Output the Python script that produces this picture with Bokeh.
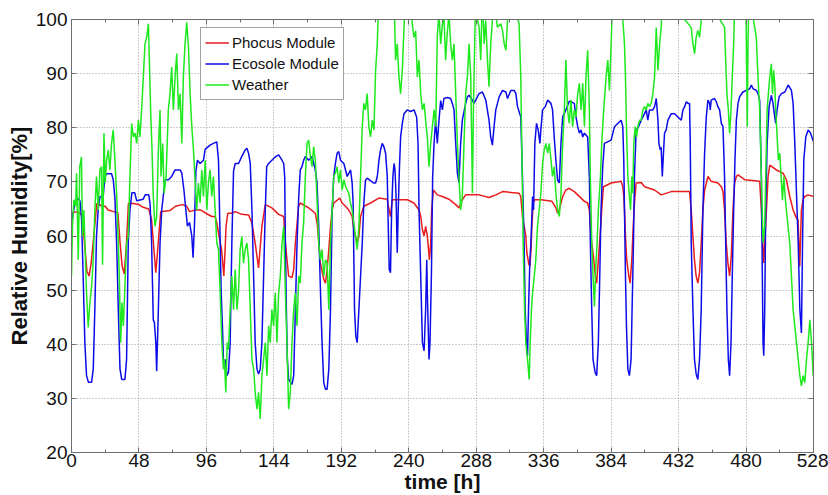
from bokeh.plotting import figure
from bokeh.models import Range1d, FixedTicker, LinearAxis, Legend, LegendItem
from bokeh.embed import file_html
from bokeh.resources import INLINE

# (hour, relative humidity %)
phocus = [(0, 64.2), (4, 64.5), (7, 64.0), (8.5, 61.0), (11, 53.5), (12.5, 52.6), (14, 55.0), (15.5, 59.0),
          (18, 66.0), (22, 65.5), (24, 65.5), (26, 64.8), (30, 64.5), (33, 64.3), (34.5, 59.0), (36, 54.5),
          (37.5, 53.0), (39, 58.0), (40.5, 66.0), (44, 66.0), (48, 65.8), (51, 65.3), (55, 65.0), (57, 63.0),
          (58.5, 58.0), (60, 53.2), (61.5, 58.0), (63.5, 64.5), (70, 64.7), (74, 65.5), (79, 65.8), (82, 65.5),
          (84, 64.5), (88, 64.8), (92, 64.8), (95, 64.3), (99.8, 63.6), (102.2, 63.6), (103.4, 62.4),
          (104.6, 60.6), (106.8, 57.5), (108.4, 52.6), (109.3, 57.5), (110, 61.8), (111.2, 64.2), (114.1, 64.2),
          (116.5, 64.5), (121.2, 64.0), (126, 63.9), (128.4, 62.4), (130.7, 58.7), (133.1, 54.1), (135.5, 61.8),
          (137.9, 65.8), (142.6, 65.2), (147.4, 64.0), (151, 63.6), (152.2, 58.7), (154.5, 52.6), (156.9, 52.3),
          (158.1, 53.8), (159.3, 58.7), (161.6, 65.5), (162.8, 66.1), (168.8, 65.2), (173.5, 64.2), (174.8, 62.4),
          (176, 58.7), (177.1, 55.0), (179.5, 52.0), (180.7, 51.3), (181.9, 53.8), (183.1, 57.5), (184.3, 61.8),
          (185.5, 64.8), (186.6, 66.1), (190.9, 67.0), (192.6, 66.1), (195, 65.5), (197.3, 64.8), (199.7, 63.6),
          (201, 61.0), (202.1, 59.9), (203.3, 58.7), (204.5, 59.9), (205.7, 63.6), (208, 65.5), (212.8, 66.1),
          (218.7, 67.0), (224.6, 66.8), (226, 64.8), (227, 63.6), (228.2, 66.7), (239, 66.7), (243.7, 66.1),
          (247.3, 64.8), (248.5, 63.6), (249.7, 61.2), (250.9, 60.0), (252, 61.8), (253.2, 60.0), (254.7, 55.6),
          (255.6, 58.7), (256.3, 64.8), (257.5, 68.5), (260.3, 67.6), (263.9, 67.3), (268.6, 66.8), (273.4, 65.8),
          (275.7, 65.2), (278.1, 66.7), (280.5, 67.6), (290, 67.6), (297.1, 67.1), (302, 67.6), (306.7, 68.2),
          (318.5, 67.9), (319.7, 67.3), (320.9, 63.6), (323.3, 60.0), (324, 57.0), (325.4, 54.8), (326.2, 54.4),
          (327, 57.5), (327.6, 61.8), (328.5, 66.1), (329.7, 66.7), (334.1, 66.7), (341.9, 66.4), (344.7, 65.2),
          (345.9, 64.2), (347.1, 64.8), (348.3, 66.1), (349.5, 67.3), (351.8, 68.5), (354.2, 68.8), (357.8, 68.2),
          (360.2, 67.6), (365, 66.4), (367.3, 66.1), (368.5, 64.8), (369.2, 61.8), (370.2, 58.7), (371.4, 56.3),
          (372.8, 52.6), (373.7, 51.3), (374.9, 55.6), (376.1, 59.9), (377.3, 64.8), (378.5, 69.1), (384, 69.8),
          (391.1, 70.1), (392.3, 69.1), (393, 67.3), (393.5, 64.8), (394.2, 59.9), (395.1, 55.6), (396.6, 52.6),
          (397.5, 51.3), (398.7, 55.6), (399.7, 61.8), (400.6, 66.1), (401.8, 69.8), (405.4, 69.9), (407.8, 69.1),
          (414.9, 68.5), (419.6, 67.6), (426.8, 68.2), (438.7, 68.2), (439.8, 68.2), (441, 64.8), (442.2, 59.9),
          (443.3, 55.6), (444.5, 52.6), (445.7, 51.3), (446.9, 53.2), (448.1, 58.7), (449.3, 64.8), (450.5, 68.5),
          (452.9, 71.0), (455.2, 70.1), (460, 69.8), (462.4, 69.1), (463.6, 68.2), (464.7, 64.8), (465.9, 58.7),
          (467.1, 55.0), (468.3, 52.6), (469.5, 56.3), (470.7, 64.8), (471.9, 69.8), (473.1, 71.0), (474.3, 71.3),
          (479, 70.4), (489.7, 70.1), (490.9, 64.8), (491.6, 59.9), (492.6, 55.0), (493.3, 58.7), (494.5, 64.8),
          (495.7, 71.0), (496.9, 73.1), (501.6, 72.2), (506.4, 71.6), (508.7, 70.4), (511.1, 67.3), (513.5, 64.8),
          (515.9, 63.3), (517, 63.0), (518.2, 54.4), (519.4, 64.8), (520.6, 66.7), (521.8, 67.3), (524.2, 67.6),
          (528, 67.3)]

ecosole = [(0, 62.4), (2.4, 66), (4, 67), (6, 66.5), (7.1, 63.5), (8.3, 52.6), (9.5, 40.3), (10.7, 34.2), (12, 33),
           (14.3, 33), (15.5, 35.5), (16.6, 46.4), (17.8, 60), (19, 65), (20.2, 67.2), (22.6, 67.5), (23.8, 71),
           (25, 71.5), (28.5, 71.5), (29.7, 70.4), (30.9, 67), (32.1, 58.7), (33.3, 46.4), (34.5, 35.5),
           (35.7, 33.5), (38, 33.5), (39.2, 37.2), (40.4, 58.7), (41.6, 64.8), (43, 68), (45, 68), (46.4, 66.5),
           (51, 66.8), (52.5, 67.6), (55, 67.6), (55.9, 66), (57, 58.7), (58.2, 44.5), (59, 44), (60, 40.3),
           (60.6, 35), (61.8, 46.4), (63, 58.7), (64.2, 64.8), (66.6, 70.4), (69, 70.4), (71.3, 71), (73.7, 72.2),
           (77.3, 72.2), (78.5, 71.6), (80, 68.5), (82.5, 61.8), (84, 62.5), (85.6, 60), (86.5, 56), (87.5, 62),
           (88.5, 72), (89.6, 74), (91.5, 73.4), (93.9, 74), (95.1, 76), (98.6, 76.8), (101, 77.1), (103.4, 77.4),
           (104.6, 74), (105.8, 58.7), (106.5, 49.5), (107.4, 43.4), (108.1, 37.2), (108.8, 35.4), (109.8, 37.2),
           (110.5, 34.2), (111.7, 34.8), (112.9, 40.3), (114.1, 58.7), (115.3, 72), (116.5, 73.4), (118.9, 73.4),
           (121.2, 74.7), (123.6, 75.9), (124.8, 76.2), (126, 75.3), (127.2, 73.4), (128.4, 64.8), (129.6, 52.6),
           (130.7, 40.3), (132, 35.4), (133.1, 34.5), (134.3, 35.4), (135.5, 40.3), (136.7, 52.6), (137.9, 64.8),
           (138.9, 72.8), (140.3, 73.4), (142.6, 74), (145, 74.6), (147.4, 75), (149.8, 74), (151, 73.4),
           (151.7, 71), (152.2, 58.7), (152.9, 46.4), (153.6, 37.2), (154.5, 33.5), (156.9, 32.6), (158.1, 34.2),
           (159.3, 46.4), (160.5, 58.7), (161.7, 67.3), (162.8, 72.2), (164, 72.8), (165.2, 74), (166.4, 74.7),
           (168.8, 74), (171.2, 74.7), (173.5, 72.2), (174.7, 69.8), (175.9, 62), (177.1, 50.3), (178.3, 40.3),
           (179.5, 32.9), (180.7, 31.7), (181.9, 31.7), (183.1, 35.4), (184.3, 46.4), (185.5, 64.8), (186.6, 71),
           (187.8, 73.4), (189, 75.3), (190.2, 75.6), (191.4, 74), (193.8, 73.4), (196.2, 71), (198.6, 72.2),
           (199.7, 69.8), (200.4, 66.1), (201.4, 46.4), (202.3, 41.5), (203.3, 40.3), (204.5, 46.4), (205.7, 52.6),
           (206.9, 58.7), (208, 66), (209.2, 70.3), (210.4, 70.7), (214.9, 69.8), (216.4, 69.8), (217.6, 71),
           (218.8, 74), (219.9, 75.9), (221.1, 77.1), (222.3, 76.5), (223.5, 75.3), (224.7, 71), (225.4, 61.8),
           (226.1, 53.8), (227, 53.2), (227.8, 64.8), (228.7, 71), (229.5, 73.4), (230.2, 72.2), (230.9, 67.9),
           (231.8, 56.9), (232.5, 64.8), (233.3, 72.2), (234.2, 78.3), (235.4, 80.8), (236.6, 82.6), (238.9, 83.3),
           (241.3, 83.0), (243.7, 83.3), (245.6, 82), (246.6, 77.1), (247.3, 64.8), (248.5, 52.6), (249.7, 40.3),
           (250.9, 38.8), (252, 46.4), (252.8, 55.6), (253.2, 49.5), (254.4, 37.2), (255.1, 40.3), (256.1, 52.6),
           (257, 71), (258, 77.1), (259.1, 81.4), (260.3, 77.1), (261.5, 81.4), (262.7, 85), (263.9, 83.3),
           (265, 85.4), (267.4, 85.6), (269.8, 85.4), (271, 84.5), (272.2, 83.3), (273.4, 77.1), (274.6, 71.6),
           (275.7, 69.8), (276.9, 77.1), (278.1, 81.4), (280.5, 84.5), (281.7, 85.7), (282.9, 86), (285.3, 85.1),
           (286.4, 84.5), (287.6, 85.1), (288.8, 85.7), (290, 86.3), (292.4, 86.6), (294.8, 85.1), (297.1, 81.4),
           (298.3, 78.3), (299.5, 76.8), (300.7, 80.2), (301.9, 83.3), (304.3, 85.7), (306.7, 86.9), (309.1, 86.6),
           (310.3, 85.4), (312.6, 86.9), (315, 86.9), (316.2, 86.3), (317.4, 83.9), (319.7, 82), (320.9, 71),
           (322.1, 58.7), (322.8, 46.4), (323.8, 40.3), (324.5, 37.9), (325.2, 46.4), (326.2, 55.6), (326.9, 58.7),
           (328.1, 67.3), (328.8, 64.8), (329.7, 77.1), (330.9, 80.8), (332.1, 79.6), (333.3, 77.1), (334, 79.6),
           (335.2, 83.3), (337.1, 83.9), (338.8, 85.1), (341.2, 84.5), (342.3, 83.3), (343.5, 78.3), (344.7, 74),
           (345.9, 70.3), (347.1, 69.8), (348.3, 77.1), (349.5, 82), (351.8, 83.3), (354.2, 84.9), (355.4, 84.8),
           (357.8, 84.5), (359, 82), (360.2, 80.2), (361.4, 79), (362.6, 79.6), (363.8, 78.3), (365, 79),
           (367.3, 78.3), (368.5, 71), (369.2, 58.7), (370.2, 46.4), (371.1, 37.2), (372.6, 34.8), (373.7, 34.2),
           (374.9, 40.3), (375.9, 52.6), (376.8, 64.8), (378, 72.8), (379.2, 77.1), (384, 77.7), (385.2, 79),
           (386.4, 80.2), (388.7, 80.8), (391.1, 81.4), (392.3, 80.2), (393, 74), (393.5, 64.8), (394.2, 52.6),
           (394.9, 43.4), (395.9, 35.4), (397, 34.2), (398.2, 37.2), (398.9, 46.4), (399.9, 58.7), (400.6, 71),
           (401.8, 79.6), (403, 79.9), (405.4, 81.4), (407.8, 82.6), (409, 83.3), (410.1, 81.4), (411.3, 83.3),
           (413.7, 83.3), (414.9, 83.9), (416.1, 85.4), (417.3, 81.4), (418, 77.1), (419, 75.9), (419.6, 76.4),
           (420.4, 71), (421.1, 74.6), (422, 79), (423.2, 79.6), (424.4, 81.4), (426.8, 82.6), (429.2, 82.6),
           (431.5, 82), (433.9, 81.4), (435.1, 83.3), (436.3, 83.9), (437.5, 84.8), (438.7, 84.5), (439.8, 84.5),
           (440.3, 77.1), (441, 58.7), (442.2, 46.4), (443.3, 37.2), (444.5, 34.5), (445.7, 33.5), (446.9, 37.2),
           (448.1, 46.4), (449.3, 64.8), (450.5, 75.3), (451.7, 82), (452.9, 85.1), (454.1, 84.5), (454.5, 83.3),
           (455.2, 85.1), (457.6, 85.4), (458.8, 84.8), (460, 83.9), (461.2, 83.3), (462.4, 80.8), (463.6, 80.2),
           (464.7, 71), (465.5, 58.7), (466.4, 46.4), (467.4, 37.2), (468.3, 34.2), (469.3, 40.3), (470.2, 52.6),
           (471.2, 64.8), (472.1, 74), (473.1, 81.4), (474.3, 84.5), (475.4, 85.7), (477.8, 86.6), (480.2, 86.9),
           (482.6, 87.2), (483.8, 87.9), (485, 87.2), (487.3, 86.9), (488.5, 86.3), (489.7, 85.1), (490.9, 71),
           (491.6, 52.6), (492.1, 40.3), (492.6, 37.9), (493.3, 46.4), (494, 64.8), (495, 77.1), (496.4, 83.9),
           (498, 86), (499.2, 84.5), (500.4, 82), (501.1, 80.8), (502.1, 83.3), (503.5, 85.7), (505.2, 86.3),
           (507.6, 86.6), (510, 87.9), (512.3, 86.9), (513.5, 84.5), (514.7, 77.1), (515.9, 67.9), (517.1, 58.7),
           (518.3, 46.4), (519.4, 42.1), (520.2, 58.7), (521.1, 74), (522.5, 78.3), (524.2, 79.6), (525.9, 79),
           (528, 77.4)]

weather = [(0, 52.6), (0.7, 61.8), (1.7, 66.7), (2.9, 65.5), (3.6, 71.6), (4.8, 55.6), (5.9, 72.8), (7.1, 74.6),
           (7.8, 59.9), (8.8, 64.8), (9.7, 57.5), (10.7, 49.5), (11.9, 43.1), (13.1, 47.7), (14.3, 50.7),
           (15.5, 55.6), (16.6, 64.8), (17.8, 71), (19, 64.8), (20.2, 72.2), (21.4, 72.8), (22.1, 54.7), (23.1, 79),
           (24, 69.8), (25, 74), (26.2, 75.9), (27.3, 72.2), (28.5, 77.1), (29.7, 79.6), (30.9, 74), (32.1, 67.9),
           (33.3, 58.7), (34, 52.6), (35, 40.3), (35.9, 47.7), (36.9, 43.4), (38, 50.7), (39.2, 58.7), (40.4, 59.9),
           (41.6, 71), (42.8, 80.8), (44, 78.3), (45.2, 79), (46.4, 77.1), (47.6, 81.4), (48.7, 78.3), (49.9, 83.3),
           (51.1, 89.4), (52.3, 95.5), (53.5, 96.7), (54.7, 99.2), (55.4, 92.5), (56.3, 83.3), (57.3, 75.9),
           (58.2, 67.3), (59.4, 61.8), (60.6, 63.6), (61.8, 75.9), (63, 83.3), (63.7, 71), (64.9, 77.1),
           (65.9, 67.9), (67.3, 71), (68.9, 83.3), (70.1, 86.3), (71.3, 91.2), (72.5, 83.3), (73.7, 89.4),
           (74.9, 93.7), (76.1, 83.3), (77.3, 86.3), (78.5, 77.1), (79.6, 89.4), (80.8, 95.5), (82, 99.5),
           (83.2, 95), (84.4, 86.3), (85.6, 80.2), (86.8, 75.9), (88, 70), (89.1, 64.8), (90.3, 69.8), (91.5, 66.1),
           (92.7, 72.2), (93.9, 67.3), (95.1, 74), (96.3, 64.8), (97.4, 69.8), (98.6, 72.2), (99.8, 67.3),
           (101, 71), (102.2, 64.8), (103.4, 58.7), (104.6, 57.5), (105.8, 49.5), (107, 40.3), (108.1, 35.4),
           (108.8, 37.2), (109.8, 31.1), (110.8, 40.3), (111.7, 39), (112.9, 46.4), (114.1, 52.6), (115.3, 46.4),
           (116.5, 53.8), (117.7, 46.4), (118.8, 49.5), (120, 57.5), (121.2, 59.9), (122.4, 55), (123.6, 57.5),
           (124.8, 58.7), (126, 55.6), (127.2, 46.4), (128.4, 37.2), (129.6, 35.4), (130.7, 31.1), (132, 28),
           (133.1, 31.1), (134.3, 26.2), (135.5, 34.2), (136.7, 37.2), (137.9, 40.3), (139.1, 34.2), (140.3, 43.4),
           (141.4, 40.3), (142.6, 46.4), (143.8, 43.4), (145, 49.5), (146.2, 40.3), (147.4, 49.5), (148.6, 52.6),
           (149.8, 58.7), (151, 61.8), (152.2, 49.5), (153.3, 40.3), (154.5, 28), (155.7, 31.1), (156.9, 40.3),
           (158.1, 46.4), (159.3, 49.5), (160.5, 43.4), (161.7, 52.6), (162.8, 51.3), (164, 58.7), (165.2, 62.4),
           (166.4, 71), (167.6, 77.1), (168.8, 77.7), (170, 74.6), (171.2, 72.8), (172.3, 76.5), (173.5, 74),
           (174.7, 67), (175.9, 58.7), (177.1, 55.6), (178.3, 57.5), (179.5, 52.6), (180.7, 55.6), (181.9, 55),
           (183.1, 46.4), (184.3, 58.7), (185.5, 64.8), (186.6, 71), (187.8, 71.6), (189, 72.8), (190.2, 69.8),
           (191.4, 72.2), (192.6, 68.5), (193.8, 70.4), (195, 69.2), (196.2, 68.5), (197.3, 67.9), (198.5, 66.1),
           (199.7, 64.8), (200.9, 62.4), (202.1, 59.9), (203.3, 57.5), (204.5, 61.8), (205.7, 71), (206.9, 80.2),
           (208, 84.5), (209.2, 83.3), (210.4, 86.3), (211.6, 80.2), (212.8, 78.3), (214, 81.4), (215.2, 79.6),
           (216.4, 90.6), (217.6, 95.5), (218.7, 105), (229.5, 105), (230.6, 92.5), (231.8, 95.5), (233, 89.4),
           (234.2, 86.3), (235.4, 90.6), (236.6, 98.5), (237.8, 105), (241.3, 105), (242.5, 99.2), (243.7, 96.7),
           (244.9, 97.9), (246.1, 89.4), (247.3, 92.5), (248.5, 86.3), (249.7, 83.3), (250.9, 84.5), (252, 81.4),
           (253.2, 78.3), (254.4, 72.8), (255.6, 77.1), (256.8, 80.2), (258, 83.3), (259.2, 80.2), (260.3, 97),
           (261.5, 101), (262.7, 95.5), (263.9, 99), (265, 101), (266.2, 92.5), (267.4, 97.5), (268.6, 101),
           (269.8, 95.5), (271, 92.5), (272.2, 95.5), (273.4, 86.3), (274.6, 77.1), (275.7, 71), (276.9, 64.8),
           (278.1, 67.3), (279.3, 77.1), (280.5, 86.3), (281.7, 89.4), (282.9, 95.5), (284.1, 89.4), (285.3, 67.9),
           (286, 83.3), (286.9, 95.5), (287.6, 105), (288.8, 100), (290, 98.6), (291.2, 92.5), (292.4, 105),
           (293.6, 95.5), (294.8, 99.8), (296, 92.5), (297.1, 87.6), (298.3, 95.5), (299.5, 99.8), (300.7, 105),
           (303, 98.6), (305.5, 99.2), (306.7, 98), (307.9, 95.5), (309.1, 94.3), (310.3, 99.8), (311.4, 105),
           (318.5, 99.2), (319.7, 89.4), (320.4, 77.1), (321.4, 58.7), (322.4, 46.4), (323.3, 40.3), (324.5, 37.2),
           (325.7, 33.5), (326.4, 40.3), (327.3, 46.4), (328.1, 49.5), (329.3, 52.6), (330.4, 55.6), (331.6, 61.8),
           (332.8, 64.8), (334, 67.9), (335.2, 73.4), (336.4, 75.9), (337.6, 77.1), (338.8, 75.3), (340, 77.1),
           (341.2, 74), (342.3, 71), (343.5, 72.8), (344.7, 67.9), (345.9, 64.8), (347.1, 63.6), (348.3, 67.9),
           (349.5, 77.1), (350.7, 83.3), (351.8, 92.5), (353, 83.3), (354.2, 80.8), (355.4, 85.1), (356.6, 80.2),
           (357.8, 83.3), (359, 82), (360.2, 86.3), (361.4, 88.2), (362.6, 83.3), (363.8, 88.2), (365, 80.2),
           (366.1, 89.4), (367.3, 94.3), (368.5, 83.3), (369.2, 71), (370.2, 58.7), (371.1, 52.6), (372.1, 47),
           (373, 53.8), (374, 58.7), (374.9, 64.8), (376.4, 71), (377.3, 77.1), (378.7, 83.3), (380.4, 89.4),
           (381.6, 92.5), (382.8, 86.9), (384, 95.5), (385.2, 105), (391.1, 105), (392.3, 100), (393.5, 95.5),
           (394.2, 89.4), (394.9, 80.2), (395.9, 71), (397, 67.3), (397.8, 64.8), (398.7, 71), (399.4, 67.9),
           (400.1, 77.1), (401.1, 80.2), (402.1, 78.3), (403, 80.2), (404.2, 81.4), (405.4, 81.4), (406.6, 83.3),
           (407.8, 83.9), (409, 83.3), (410.1, 84.5), (411.3, 83.9), (412.5, 84.5), (413.7, 86.3), (414.9, 89.4),
           (416.1, 98.5), (417.3, 90.6), (418.5, 95.5), (419.6, 98.5), (420.8, 105), (441, 98.5), (442.2, 95.5),
           (443.4, 93.7), (444.5, 96.7), (445.7, 98), (446.9, 96.7), (448.1, 99.8), (449.3, 105), (464.7, 98.6),
           (465.5, 92.5), (466.4, 86.3), (467.4, 83.3), (468.3, 79), (469.3, 83.3), (470.2, 89.4), (471.2, 95.5),
           (472.1, 105), (480, 101), (480.9, 80.2), (481.4, 95.5), (482.1, 105), (487.3, 96.7), (488.5, 89.4),
           (489.7, 83.3), (490.9, 71), (492.1, 58.7), (493.3, 61.8), (494, 71), (495, 83.3), (495.9, 86.3),
           (496.9, 89.4), (498, 91.8), (498.8, 86.3), (499.7, 90.6), (500.4, 88.2), (501.1, 83.3), (502.1, 78.4),
           (503, 74), (504, 75.3), (505.2, 69.8), (505.9, 66.6), (506.9, 71), (507.8, 67.3), (508.7, 64.8),
           (509.9, 61.8), (511.1, 58.7), (512.3, 52.6), (513.5, 46.4), (514.7, 43.4), (515.9, 40.3), (517.1, 37.2),
           (518.3, 34.2), (519.4, 32.3), (520.6, 34.2), (521.8, 32.9), (523, 37.2), (524.2, 40.3), (525.4, 44.5),
           (526.6, 40.3), (527.8, 34.2)]

series_names = ["Phocus Module", "Ecosole Module", "Weather"]
series_colors = ["#e81c1c", "#0c0ce8", "#1ee81e"]
x_ticks = [0, 48, 96, 144, 192, 240, 288, 336, 384, 432, 480, 528]
y_ticks = [20, 30, 40, 50, 60, 70, 80, 90, 100]

FONT = "Liberation Sans"

p = figure(width=828, height=495, output_backend="svg", toolbar_location=None,
           x_range=Range1d(0, 528), y_range=Range1d(20, 100),
           min_border_left=71, min_border_right=15, min_border_top=19, min_border_bottom=42)
p.background_fill_color = "white"
p.border_fill_color = "white"
p.outline_line_color = "#6e6e6e"
p.outline_line_width = 1

minor_x = [t + 24 for t in x_ticks[:-1]]
xt = FixedTicker(ticks=x_ticks, minor_ticks=minor_x)
yt = FixedTicker(ticks=y_ticks)

for ax in p.xaxis:
    ax.ticker = xt
for ax in p.yaxis:
    ax.ticker = yt

def style_axis(ax, show_labels):
    ax.axis_line_color = "#6e6e6e"
    ax.major_tick_line_color = "#6e6e6e"
    ax.minor_tick_line_color = "#6e6e6e"
    ax.major_tick_in = 5
    ax.major_tick_out = 0
    ax.minor_tick_in = 3
    ax.minor_tick_out = 0
    if show_labels:
        ax.major_label_text_font = FONT
        ax.major_label_text_font_size = "19px"
        ax.major_label_text_color = "#111111"
        ax.axis_label_text_font = FONT
        ax.axis_label_text_font_style = "bold"
        ax.axis_label_text_font_size = "21px"
        ax.axis_label_text_color = "#111111"
    else:
        ax.major_label_text_font_size = "0px"
        ax.major_label_text_alpha = 0

xa = p.xaxis[0]
ya = p.yaxis[0]
style_axis(xa, True)
style_axis(ya, True)
ya.axis_label_text_font_size = "22px"
xa.axis_label = "time [h]"
ya.axis_label = "Relative Humidity[%]"
xa.major_label_standoff = 1
xa.axis_label_standoff = 0
ya.major_label_standoff = 4
ya.axis_label_standoff = 1
ya.minor_tick_line_color = None

top = LinearAxis(ticker=xt)
style_axis(top, False)
p.add_layout(top, "above")
right = LinearAxis(ticker=yt)
style_axis(right, False)
right.minor_tick_line_color = None
p.add_layout(right, "right")

p.xgrid.ticker = FixedTicker(ticks=x_ticks)
p.ygrid.ticker = FixedTicker(ticks=y_ticks)
for g in (p.xgrid[0], p.ygrid[0]):
    g.grid_line_color = "#9a9a9a"
    g.grid_line_dash = "1 2"
    g.grid_line_width = 1

renderers = []
for data, color in zip([phocus, ecosole, weather], series_colors):
    hours = [d[0] for d in data]
    rh = [d[1] for d in data]
    r = p.line(hours, rh, line_color=color, line_width=1.5)
    renderers.append(r)

legend = Legend(items=[LegendItem(label=n, renderers=[r]) for n, r in zip(series_names, renderers)],
                location=(129, 352))
legend.label_text_font = FONT
legend.label_text_font_size = "15px"
legend.label_text_color = "#111111"
legend.label_standoff = 3
legend.glyph_width = 24
legend.glyph_height = 21
legend.label_height = 21
legend.spacing = 0
legend.padding = 4
legend.margin = 0
legend.border_line_color = "#444444"
legend.border_line_width = 1
legend.background_fill_color = "white"
legend.background_fill_alpha = 1
p.add_layout(legend, "center")

open("out.html", "w").write(file_html(p, INLINE))
